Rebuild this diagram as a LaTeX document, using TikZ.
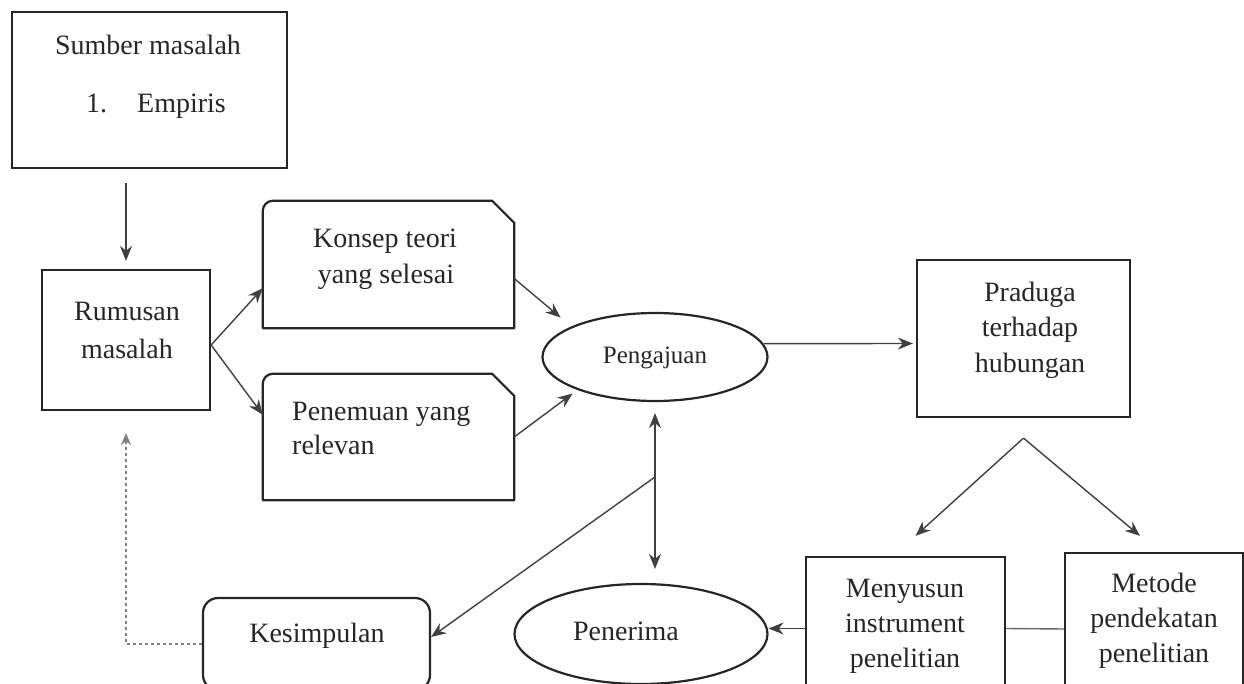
\documentclass[tikz,border=0pt]{standalone}
\usepackage{fontspec}
\setmainfont{Liberation Serif}
\usetikzlibrary{arrows.meta,shapes.geometric}
\tikzset{
  box/.style={draw=black!85, line width=2.2pt, inner sep=0pt},
  bubble/.style={ellipse, draw=black!85, line width=2.2pt, inner sep=0pt},
  txt/.style={anchor=base, inner sep=0pt, text=black!85, font=\fontsize{28}{34}\selectfont},
  conn/.style={draw=black!75, line width=1.4pt, -{Stealth[length=15pt,width=12pt]}},
  both/.style={draw=black!75, line width=1.4pt, {Stealth[length=15pt,width=12pt]}-{Stealth[length=15pt,width=12pt]}},
  link/.style={draw=black!60, line width=1.4pt},
  back/.style={draw=black!50, line width=1.8pt, dash pattern=on 3pt off 3pt, -{Stealth[length=12pt,width=10pt]}}
}
\begin{document}
\begin{tikzpicture}[x=1pt, y=-1pt]
	\useasboundingbox (0,0) rectangle (1244,684);
	\clip (0,0) rectangle (1244,684);
	% Kotak-kotak
	\node[box, minimum width=275pt, minimum height=156pt] (sumber) at (149.5,90) {};
	\node[box, minimum width=168pt, minimum height=140pt] (rumusan) at (126,340) {};
	\node[minimum width=251pt, minimum height=127pt, inner sep=0pt] (konsep) at (388.5,264.5) {};
	\node[minimum width=251pt, minimum height=126pt, inner sep=0pt] (penemuan) at (388.5,437) {};
	\node[bubble, minimum width=225pt, minimum height=88pt] (pengajuan) at (655,357) {};
	\node[box, minimum width=213pt, minimum height=157pt] (praduga) at (1023.5,338.5) {};
	\node[box, minimum width=199pt, minimum height=143pt] (menyusun) at (905.5,628.5) {};
	\node[box, minimum width=178pt, minimum height=152pt] (metode) at (1154,629) {};
	\node[bubble, minimum width=253pt, minimum height=100pt] (penerima) at (641,634) {};
	\node[box, rounded corners=15pt, minimum width=227pt, minimum height=92pt] (kesimpulan) at (316.5,644) {};
	% Kotak dengan sudut terpotong
	\foreach \k in {konsep,penemuan}
		\draw[draw=black!85, line width=2.2pt, line join=round]
			(\k.south west) -- ([yshift=-10pt]\k.north west)
			arc[start angle=180, end angle=90, radius=10pt]
			-- ([xshift=-22pt]\k.north east) -- ([yshift=-22pt]\k.north east)
			-- (\k.south east) -- cycle;
	% Teks
	\node[txt] (t-sumber) at (148,55) {Sumber masalah};
	\node[txt, anchor=base west] (t-empiris) at (86,113) {1.\hspace{30pt}Empiris};
	\node[txt] (t-rumusan1) at (127,320) {Rumusan};
	\node[txt] (t-rumusan2) at (127,358) {masalah};
	\node[txt] (t-konsep1) at (385,248) {Konsep teori};
	\node[txt] (t-konsep2) at (386,284) {yang selesai};
	\node[txt, anchor=base west] (t-penemuan1) at (292,420) {Penemuan yang};
	\node[txt, anchor=base west] (t-penemuan2) at (292,454) {relevan};
	\node[txt, font=\fontsize{25}{30}\selectfont] (t-pengajuan) at (655,363) {Pengajuan};
	\node[txt] (t-praduga1) at (1030,302) {Praduga};
	\node[txt] (t-praduga2) at (1030,337) {terhadap};
	\node[txt] (t-praduga3) at (1030,372) {hubungan};
	\node[txt] (t-menyusun1) at (905,597) {Menyusun};
	\node[txt] (t-menyusun2) at (905,632) {instrument};
	\node[txt] (t-menyusun3) at (905,667) {penelitian};
	\node[txt] (t-metode1) at (1154,592) {Metode};
	\node[txt] (t-metode2) at (1154,627) {pendekatan};
	\node[txt] (t-metode3) at (1154,662) {penelitian};
	\node[txt] (t-penerima) at (626,640) {Penerima};
	\node[txt] (t-kesimpulan) at (317,642) {Kesimpulan};
	% Titik bantu
	\coordinate (split) at ([yshift=-5pt]rumusan.east);
	\coordinate (fork) at ([yshift=-20pt]praduga.south);
	\coordinate (tap) at (655,477);
	% Panah
	\draw[conn, shorten <=14pt, shorten >=8pt] (sumber.south -| rumusan.north) -- (rumusan.north);
	\draw[conn] (split) -- ([yshift=40pt]konsep.south west);
	\draw[conn] (split) -- ([yshift=-41pt]penemuan.north west);
	\draw[conn, shorten >=14pt] ([yshift=-14pt]konsep.east) -- (pengajuan.160);
	\draw[conn, shorten >=6pt] (penemuan.east) -- (pengajuan.203);
	\draw[conn, shorten >=3pt] (pengajuan.7) -- ([yshift=-5pt]praduga.west);
	\draw[conn] (fork) -- ([xshift=10pt, yshift=20pt]menyusun.north);
	\draw[conn] (fork) -- ([xshift=-14pt, yshift=16pt]metode.north);
	\draw[link] (menyusun.east) -- (metode.west);
	\draw[conn] (menyusun.west) -- (menyusun.west -| penerima.east);
	\draw[both, shorten <=11pt, shorten >=14pt] (pengajuan.south) -- (pengajuan.south |- penerima.north);
	\draw[conn] (tap) -- ([yshift=7pt]kesimpulan.east);
	\draw[back] (kesimpulan.west) -| ([yshift=-22pt]rumusan.south);
\end{tikzpicture}
\end{document}
